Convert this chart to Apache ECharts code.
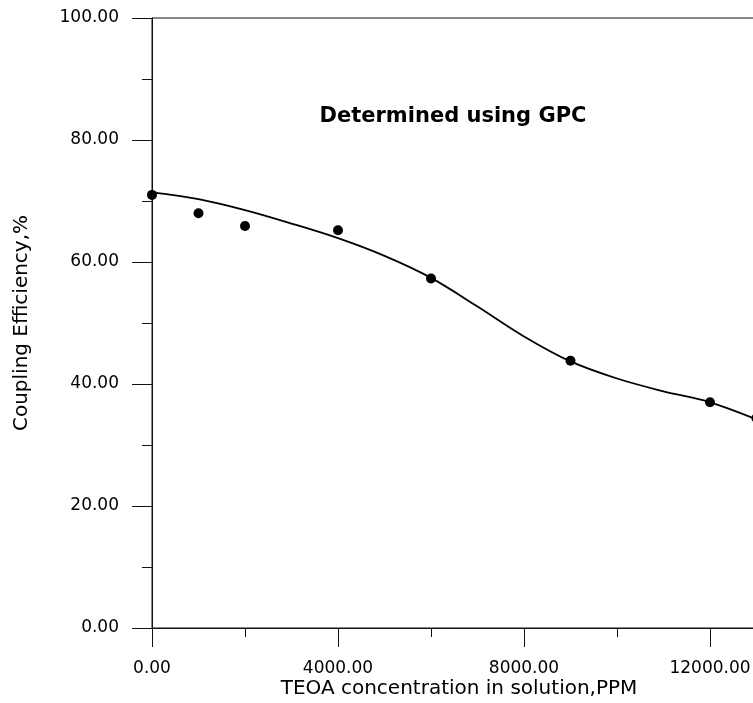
<!DOCTYPE html>
<html>
<head>
<meta charset="utf-8">
<script src="https://cdn.jsdelivr.net/npm/echarts@6/dist/echarts.min.js"></script>
<style>
html,body{margin:0;padding:0;background:#fff;}
#chart{width:753px;height:703px;}
</style>
</head>
<body>
<div id="chart"></div>
<script>
// Measured data points (TEOA ppm, coupling efficiency %)
var pointX = [0, 1000, 2000, 4000, 6000, 9000, 12000, 13000];
var pointY = [71.0, 68.0, 65.9, 65.2, 57.3, 43.8, 37.0, 34.4];

// Fitted curve
var curveX = [0, 1000, 2000, 3000, 4000, 5000, 6000, 7000, 8000, 9000, 10000, 11000, 12000, 13000];
var curveY = [71.4, 70.3, 68.5, 66.3, 63.9, 61.0, 57.4, 52.7, 47.8, 43.7, 40.9, 38.8, 37.0, 34.2];

var titleText = 'Determined using GPC';
var xName = 'TEOA concentration in solution,PPM';
var yName = 'Coupling Efficiency,%';

function pairs(xs, ys) {
  return xs.map(function (x, i) { return [x, ys[i]]; });
}

var chart = echarts.init(document.getElementById('chart'), null, {renderer: 'canvas'});
var font = 'DejaVu Sans';
chart.setOption({
  animation: false,
  backgroundColor: '#fff',
  title: [
    {
      text: titleText,
      left: 448, top: 101, textAlign: 'center',
      textStyle: {fontFamily: font, fontSize: 21, fontWeight: 'bold', color: '#000'}
    },
    {
      // x-axis title (axis extends past the visible edge, so it is placed here)
      text: xName,
      left: 459, top: 679, textAlign: 'center', padding: 0,
      textStyle: {fontFamily: font, fontSize: 20, fontWeight: 'normal', color: '#000'}
    }
  ],
  grid: {
    left: 152, top: 18, bottom: 75, right: -143,
    containLabel: false, outerBoundsMode: 'none',
    show: true, borderColor: '#111', borderWidth: 1, backgroundColor: 'transparent'
  },
  xAxis: {
    type: 'value', min: 0, max: 16000, interval: 4000,
    axisLine: {show: true, lineStyle: {color: '#111', width: 1}},
    axisTick: {show: true, length: 19, lineStyle: {color: '#111'}},
    minorTick: {show: true, splitNumber: 2, length: 9, lineStyle: {color: '#111'}},
    splitLine: {show: false},
    axisLabel: {fontFamily: font, fontSize: 17, color: '#000', margin: 32,
      formatter: function (v) { return v.toFixed(2); }}
  },
  yAxis: {
    type: 'value', min: 0, max: 100, interval: 20,
    name: yName, nameLocation: 'middle', nameGap: 120, nameRotate: 90,
    nameTextStyle: {fontFamily: font, fontSize: 20, color: '#000'},
    axisLine: {show: true, lineStyle: {color: '#111', width: 1}},
    axisTick: {show: true, length: 20, lineStyle: {color: '#111'}},
    minorTick: {show: true, splitNumber: 2, length: 10, lineStyle: {color: '#111'}},
    splitLine: {show: false},
    axisLabel: {fontFamily: font, fontSize: 17, color: '#000', margin: 33,
      formatter: function (v) { return v.toFixed(2); }}
  },
  series: [
    {
      type: 'line', data: pairs(curveX, curveY), smooth: 0.35,
      showSymbol: false, symbol: 'none',
      lineStyle: {color: '#000', width: 1.8}, z: 2
    },
    {
      type: 'scatter', data: pairs(pointX, pointY),
      symbol: 'circle', symbolSize: 10, clip: false,
      itemStyle: {color: '#000', opacity: 1}, z: 3
    }
  ]
});
</script>
</body>
</html>
